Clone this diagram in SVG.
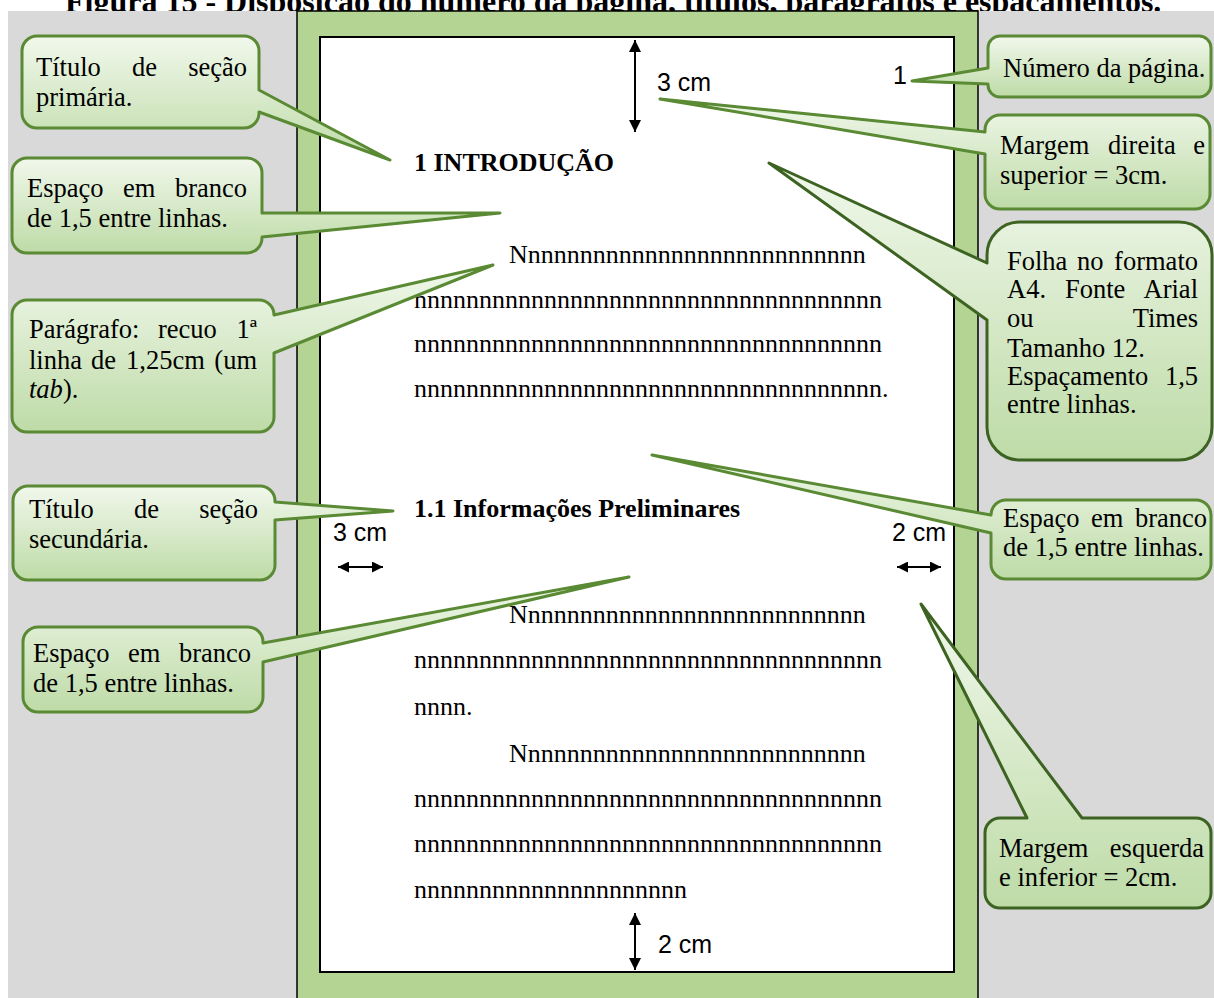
<svg xmlns="http://www.w3.org/2000/svg" width="1214" height="998" viewBox="0 0 1214 998">
<style>
.title{font-family:"Liberation Serif","Times New Roman",serif;font-weight:bold;font-size:32px;fill:#000}
.body{font-family:"Liberation Serif","Times New Roman",serif;font-size:26px;fill:#000}
.head{font-family:"Liberation Serif","Times New Roman",serif;font-size:26px;font-weight:bold;fill:#000}
.lbl{font-family:"Liberation Serif","Times New Roman",serif;font-size:26.5px;fill:#000}
.end{text-anchor:end}
.meas{font-family:"Liberation Sans",Arial,sans-serif;font-size:25px;fill:#000}
.co{fill:url(#cg);stroke:#5a8a34;stroke-width:3;stroke-linejoin:round}
.co.dk{stroke:#3d6322}
.arr{stroke:#000;stroke-width:2;fill:none}
</style>
<defs>
<linearGradient id="cg" x1="0" y1="0" x2="0" y2="1">
<stop offset="0" stop-color="#f1f8ec"/>
<stop offset="1" stop-color="#bedba7"/>
</linearGradient>
<marker id="hv" viewBox="0 0 10 10" refX="10" refY="5" markerUnits="userSpaceOnUse" markerWidth="15" markerHeight="12" orient="auto-start-reverse">
<path d="M0,0 L10,5 L0,10 Z" fill="#000"/>
</marker>
<marker id="hh" viewBox="0 0 10 10" refX="10" refY="5" markerUnits="userSpaceOnUse" markerWidth="12" markerHeight="11" orient="auto-start-reverse">
<path d="M0,0 L10,5 L0,10 Z" fill="#000"/>
</marker>
</defs>

<text class="title" x="65" y="12">Figura 15 - Disposição do número da página, títulos, parágrafos e espaçamentos.</text>
<rect x="8" y="11" width="1206" height="987" fill="#d9d9d9"/>

<g id="page">
<rect x="297" y="11" width="681" height="992" fill="#b3d493" stroke="#000" stroke-width="1.5"/>
<rect x="320" y="37" width="634" height="935" fill="#fff" stroke="#000" stroke-width="2"/>
<text class="head" x="414" y="171">1 INTRODUÇÃO</text>
<text class="body" x="509" y="263">Nnnnnnnnnnnnnnnnnnnnnnnnnnn</text>
<text class="body" x="414" y="308">nnnnnnnnnnnnnnnnnnnnnnnnnnnnnnnnnnnn</text>
<text class="body" x="414" y="352">nnnnnnnnnnnnnnnnnnnnnnnnnnnnnnnnnnnn</text>
<text class="body" x="414" y="397">nnnnnnnnnnnnnnnnnnnnnnnnnnnnnnnnnnnn.</text>
<text class="head" x="414" y="517">1.1 Informações Preliminares</text>
<text class="body" x="509" y="623">Nnnnnnnnnnnnnnnnnnnnnnnnnnn</text>
<text class="body" x="414" y="668">nnnnnnnnnnnnnnnnnnnnnnnnnnnnnnnnnnnn</text>
<text class="body" x="414" y="715">nnnn.</text>
<text class="body" x="509" y="762">Nnnnnnnnnnnnnnnnnnnnnnnnnnn</text>
<text class="body" x="414" y="807">nnnnnnnnnnnnnnnnnnnnnnnnnnnnnnnnnnnn</text>
<text class="body" x="414" y="852">nnnnnnnnnnnnnnnnnnnnnnnnnnnnnnnnnnnn</text>
<text class="body" x="414" y="898">nnnnnnnnnnnnnnnnnnnnn</text>
<text class="meas" x="893" y="84">1</text>
<text class="meas" x="657" y="91">3 cm</text>
<text class="meas" x="333" y="541">3 cm</text>
<text class="meas" x="892" y="541">2 cm</text>
<text class="meas" x="658" y="953">2 cm</text>
</g>

<g id="connectors">
<line class="arr" x1="635" y1="40" x2="635" y2="132" marker-start="url(#hv)" marker-end="url(#hv)"/>
<line class="arr" x1="635" y1="913" x2="635" y2="970" marker-start="url(#hv)" marker-end="url(#hv)"/>
<line class="arr" x1="338" y1="567" x2="383" y2="567" marker-start="url(#hh)" marker-end="url(#hh)"/>
<line class="arr" x1="897" y1="567" x2="941" y2="567" marker-start="url(#hh)" marker-end="url(#hh)"/>
</g>

<g id="c1">
<path class="co" d="M37,36 H244 A15,15 0 0 1 259,51 V90 L390,160 L259,112 V113 A15,15 0 0 1 244,128 H37 A15,15 0 0 1 22,113 V51 A15,15 0 0 1 37,36 Z"/>
<text class="lbl" x="36" y="76">Título</text>
<text class="lbl" x="132" y="76">de</text>
<text class="lbl end" x="247" y="76">seção</text>
<text class="lbl" x="36" y="106">primária.</text>
</g>

<g id="c2">
<path class="co" d="M27,158 H247 A15,15 0 0 1 262,173 V213 L500,213 L262,237 V238 A15,15 0 0 1 247,253 H27 A15,15 0 0 1 12,238 V173 A15,15 0 0 1 27,158 Z"/>
<text class="lbl" x="27" y="197">Espaço</text>
<text class="lbl" x="123" y="197">em</text>
<text class="lbl end" x="247" y="197">branco</text>
<text class="lbl" x="27" y="227">de 1,5 entre linhas.</text>
</g>

<g id="c3">
<path class="co" d="M27,300 H259 A15,15 0 0 1 274,315 L493,265 L274,353 V417 A15,15 0 0 1 259,432 H27 A15,15 0 0 1 12,417 V315 A15,15 0 0 1 27,300 Z"/>
<text class="lbl" x="29" y="338">Parágrafo:</text>
<text class="lbl" x="158" y="338">recuo</text>
<text class="lbl end" x="257" y="338">1ª</text>
<text class="lbl" x="29" y="369">linha</text>
<text class="lbl" x="91" y="369">de</text>
<text class="lbl" x="126" y="369">1,25cm</text>
<text class="lbl end" x="257" y="369">(um</text>
<text class="lbl" x="29" y="398"><tspan font-style="italic">tab</tspan>).</text>
</g>

<g id="c4">
<path class="co" d="M28,486 H260 A15,15 0 0 1 275,501 V502 L393,511 L275,520 V565 A15,15 0 0 1 260,580 H28 A15,15 0 0 1 13,565 V501 A15,15 0 0 1 28,486 Z"/>
<text class="lbl" x="29" y="518">Título</text>
<text class="lbl" x="134" y="518">de</text>
<text class="lbl end" x="258" y="518">seção</text>
<text class="lbl" x="29" y="548">secundária.</text>
</g>

<g id="c5">
<path class="co" d="M38,627 H248 A15,15 0 0 1 263,642 V643 L629,577 L263,662 V697 A15,15 0 0 1 248,712 H38 A15,15 0 0 1 23,697 V642 A15,15 0 0 1 38,627 Z"/>
<text class="lbl" x="33" y="662">Espaço</text>
<text class="lbl" x="128" y="662">em</text>
<text class="lbl end" x="251" y="662">branco</text>
<text class="lbl" x="33" y="692">de 1,5 entre linhas.</text>
</g>

<g id="c6">
<path class="co" d="M1000,36 H1199 A12,12 0 0 1 1211,48 V85 A12,12 0 0 1 1199,97 H1000 A12,12 0 0 1 988,85 V84 L912,81 L988,68 V48 A12,12 0 0 1 1000,36 Z"/>
<text class="lbl" x="1003" y="77">Número da página.</text>
</g>

<g id="c7">
<path class="co" d="M1000,115 H1195 A15,15 0 0 1 1210,130 V194 A15,15 0 0 1 1195,209 H1000 A15,15 0 0 1 985,194 V154 L660,99 L985,132 V130 A15,15 0 0 1 1000,115 Z"/>
<text class="lbl" x="1000" y="154">Margem</text>
<text class="lbl" x="1108" y="154">direita</text>
<text class="lbl end" x="1205" y="154">e</text>
<text class="lbl" x="1000" y="184">superior = 3cm.</text>
</g>

<g id="c8">
<path class="co dk" d="M1020,222 H1179 A33,33 0 0 1 1212,255 V427 A33,33 0 0 1 1179,460 H1020 A33,33 0 0 1 987,427 V320 L769,163 L987,263 V255 A33,33 0 0 1 1020,222 Z"/>
<text class="lbl" x="1007" y="270">Folha</text>
<text class="lbl" x="1077" y="270">no</text>
<text class="lbl end" x="1198" y="270">formato</text>
<text class="lbl" x="1007" y="298">A4.</text>
<text class="lbl" x="1065" y="298">Fonte</text>
<text class="lbl end" x="1198" y="298">Arial</text>
<text class="lbl" x="1007" y="327">ou</text>
<text class="lbl end" x="1198" y="327">Times</text>
<text class="lbl" x="1007" y="357">Tamanho 12.</text>
<text class="lbl" x="1007" y="385">Espaçamento</text>
<text class="lbl end" x="1198" y="385">1,5</text>
<text class="lbl" x="1007" y="413">entre linhas.</text>
</g>

<g id="c9">
<path class="co" d="M1006,500 H1196 A15,15 0 0 1 1211,515 V564 A15,15 0 0 1 1196,579 H1006 A15,15 0 0 1 991,564 V533 L652,455 L991,515 A15,15 0 0 1 1006,500 Z"/>
<text class="lbl" x="1003" y="527">Espaço</text>
<text class="lbl" x="1091" y="527">em</text>
<text class="lbl end" x="1207" y="527">branco</text>
<text class="lbl" x="1003" y="556">de 1,5 entre linhas.</text>
</g>

<g id="c10">
<path class="co dk" d="M1000,818 H1027 L921,604 L1082,818 H1196 A15,15 0 0 1 1211,833 V893 A15,15 0 0 1 1196,908 H1000 A15,15 0 0 1 985,893 V833 A15,15 0 0 1 1000,818 Z"/>
<text class="lbl" x="999" y="857">Margem</text>
<text class="lbl end" x="1204" y="857">esquerda</text>
<text class="lbl" x="999" y="886">e inferior = 2cm.</text>
</g>
</svg>
